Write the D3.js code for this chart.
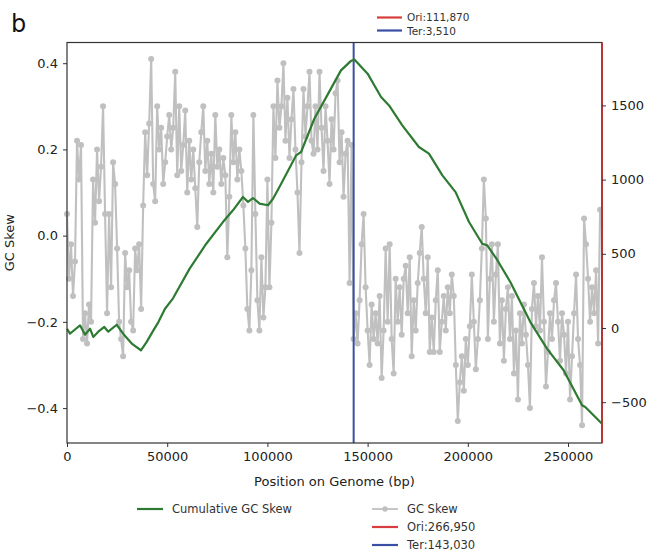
<!DOCTYPE html>
<html>
<head>
<meta charset="utf-8">
<script src="https://cdn.jsdelivr.net/npm/d3@7"></script>
<style>
html,body{margin:0;padding:0;background:#fff;}
svg{display:block;font-family:"DejaVu Sans",sans-serif;}
</style>
</head>
<body>
<svg id="chart" width="657" height="555"></svg>
<script>
// ---- data ----
const genomeLength = 266950;
const oriPos = 266950;
const terPos = 143030;
const skewWindow = 1000; // bp between GC skew points
const gcSkew = [
  // 0k - 52k
  0.05,-0.10,-0.02,-0.14,-0.06,0.22,0.13,0.21,-0.24,-0.18,
  -0.25,-0.16,-0.20,0.13,0.03,0.20,0.08,0.16,0.30,0.05,
  -0.18,0.05,-0.12,0.17,0.12,-0.03,-0.20,-0.24,-0.28,-0.04,
  -0.12,-0.08,-0.20,-0.22,-0.03,-0.08,-0.02,-0.17,0.07,0.24,
  0.14,0.26,0.41,0.12,0.08,0.30,0.20,0.25,0.12,0.17,
  0.23,0.28,0.20,
  // 53k - 106k
  0.25,0.38,0.14,0.30,0.15,0.21,0.29,0.10,0.22,0.13,
  0.20,0.11,0.02,0.17,0.24,0.30,0.15,0.22,0.12,0.19,
  0.10,0.28,0.16,0.20,0.12,0.18,0.14,-0.05,0.09,0.28,
  0.17,0.24,0.13,0.20,0.15,0.07,-0.03,-0.17,-0.22,-0.08,
  0.28,0.05,-0.15,-0.22,-0.05,-0.19,-0.12,0.13,-0.12,0.03,
  0.30,0.18,0.36,0.25,
  // 107k - 160k
  0.30,0.40,0.22,0.32,0.18,0.27,0.34,0.20,0.10,-0.04,
  0.17,0.34,0.23,0.30,0.38,0.22,0.19,0.30,0.20,0.38,
  0.25,0.15,0.30,0.22,0.12,0.27,0.20,0.33,0.36,0.17,
  0.24,0.09,0.19,0.22,-0.11,0.21,-0.24,-0.18,-0.25,-0.15,
  -0.02,0.05,-0.12,-0.22,-0.30,-0.16,-0.24,-0.18,-0.25,-0.14,
  -0.33,-0.22,-0.03,-0.20,
  // 161k - 214k
  -0.02,-0.24,-0.32,-0.10,-0.20,-0.12,-0.23,-0.10,-0.07,-0.18,
  -0.05,-0.28,-0.15,-0.22,-0.11,-0.04,0.02,-0.10,-0.18,-0.05,
  -0.27,-0.19,-0.27,-0.15,-0.08,-0.27,-0.20,-0.14,-0.22,-0.12,
  -0.18,-0.09,-0.14,-0.30,-0.43,-0.34,-0.28,-0.36,-0.24,-0.30,
  -0.21,-0.09,-0.20,-0.31,-0.24,-0.15,-0.03,0.13,0.04,-0.24,
  -0.10,-0.02,-0.20,-0.09,
  // 215k - 266k
  -0.02,-0.25,-0.15,-0.29,-0.17,-0.12,-0.24,-0.14,-0.32,-0.22,
  -0.38,-0.18,-0.25,-0.16,-0.23,-0.30,-0.40,-0.17,-0.11,-0.21,
  -0.14,-0.22,-0.05,-0.20,-0.35,-0.27,-0.18,-0.24,-0.15,-0.11,
  -0.20,-0.29,-0.18,-0.23,-0.32,-0.20,-0.38,-0.28,-0.18,-0.09,
  -0.24,-0.30,-0.44,0.04,-0.02,-0.10,-0.20,-0.12,-0.18,-0.08,
  -0.25,0.06
];
const cumPos = [0,1500,4000,6500,9000,11500,13100,15600,18600,20600,24800,28100,32300,36900,39700,43100,45600,48900,52900,61200,69500,77800,82800,87800,90300,92800,96100,100300,102800,106800,114300,116800,123400,131700,136700,141700,143400,150000,156700,160700,167300,175600,180600,187300,193900,200600,207200,209700,214600,221200,231200,239500,247800,257000,258600,266950];
const cumSkew = [-5,-38,-10,18,-45,-5,-60,-25,7,-25,22,-40,-105,-150,-95,-16,40,130,200,400,568,714,793,883,850,876,838,827,871,970,1163,1186,1410,1613,1736,1800,1810,1714,1557,1500,1366,1220,1175,1029,916,714,568,557,460,310,40,-139,-285,-521,-532,-645];
const xTicks = [0,50000,100000,150000,200000,250000];
const yLeftTicks = [-0.4,-0.2,0.0,0.2,0.4];
const yRightTicks = [-500,0,500,1000,1500];

// ---- layout ----
const svg = d3.select("#chart");
const L = 67, R = 602, T = 42.5, B = 443;
const x = d3.scaleLinear().domain([0, genomeLength]).range([L, R]);
const yL = d3.scaleLinear().domain([-0.481, 0.448]).range([B, T]);
const yR = d3.scaleLinear().domain([-775, 1924]).range([B, T]);

const gray = "#c0c0c0", green = "#2f7a32", blue = "#3a4fa3", red = "#b83434", axisCol = "#333";
const fmtMinus = s => s.replace("-", "\u2212");

svg.append("rect").attr("width",657).attr("height",555).attr("fill","#fff");

// GC skew series
const skewData = gcSkew.map((v,i)=>({p:i*skewWindow, v}));
svg.append("path").datum(skewData)
  .attr("fill","none").attr("stroke",gray).attr("stroke-width",2.1)
  .attr("d", d3.line().x(d=>x(d.p)).y(d=>yL(d.v)));
svg.append("g").selectAll("circle").data(skewData).join("circle")
  .attr("cx",d=>x(d.p)).attr("cy",d=>yL(d.v)).attr("r",3).attr("fill",gray);

// Ter line
svg.append("line").attr("x1",x(terPos)).attr("x2",x(terPos)).attr("y1",T).attr("y2",B)
  .attr("stroke",blue).attr("stroke-width",2);

// cumulative
const cumData = cumPos.map((p,i)=>({p, v:cumSkew[i]}));
svg.append("path").datum(cumData)
  .attr("fill","none").attr("stroke",green).attr("stroke-width",2.2).attr("stroke-linejoin","round")
  .attr("d", d3.line().x(d=>x(d.p)).y(d=>yR(d.v)));

// frame
svg.append("rect").attr("x",L).attr("y",T).attr("width",R-L).attr("height",B-T)
  .attr("fill","none").attr("stroke",axisCol).attr("stroke-width",1.2);
// Ori line (right edge)
svg.append("line").attr("x1",x(oriPos)).attr("x2",x(oriPos)).attr("y1",T).attr("y2",B)
  .attr("stroke",red).attr("stroke-width",2);

// axes
const styleAxis = g => {
  g.select(".domain").remove();
  g.selectAll(".tick line").attr("stroke",axisCol);
  g.selectAll(".tick text").attr("fill","#222").style("font-size","13px").style("font-family","DejaVu Sans");
};
svg.append("g").attr("transform",`translate(0,${B})`)
  .call(d3.axisBottom(x).tickValues(xTicks).tickFormat(d3.format("d")).tickSizeOuter(0).tickSize(4).tickPadding(5))
  .call(styleAxis);
svg.append("g").attr("transform",`translate(${L},0)`)
  .call(d3.axisLeft(yL).tickValues(yLeftTicks).tickFormat(d=>fmtMinus(d3.format(".1f")(d))).tickSizeOuter(0).tickSize(4).tickPadding(5))
  .call(styleAxis);
svg.append("g").attr("transform",`translate(${R},0)`)
  .call(d3.axisRight(yR).tickValues(yRightTicks).tickFormat(d=>fmtMinus(String(d))).tickSizeOuter(0).tickSize(4).tickPadding(5))
  .call(styleAxis);

// axis labels
svg.append("text").attr("x",(L+R)/2).attr("y",486).attr("text-anchor","middle")
  .style("font-size","13px").attr("fill","#222").text("Position on Genome (bp)");
svg.append("text").attr("transform",`translate(14,${(T+B)/2}) rotate(-90)`).attr("text-anchor","middle")
  .style("font-size","13px").attr("fill","#222").text("GC Skew");

// panel letter
svg.append("text").attr("x",11).attr("y",32).style("font-size","24px").attr("fill","#111").text("b");

// top legend (from previous panel)
const topLeg = svg.append("g").style("font-size","10.5px").attr("fill","#333");
topLeg.append("line").attr("x1",377).attr("x2",402).attr("y1",17.5).attr("y2",17.5).attr("stroke","#d83c3c").attr("stroke-width",2.2);
topLeg.append("text").attr("x",407).attr("y",21).text("Ori:111,870");
topLeg.append("line").attr("x1",377).attr("x2",402).attr("y1",30.5).attr("y2",30.5).attr("stroke",blue).attr("stroke-width",2.2);
topLeg.append("text").attr("x",407).attr("y",34.5).text("Ter:3,510");

// bottom legends
const leg = svg.append("g").style("font-size","11.5px").attr("fill","#333");
leg.append("line").attr("x1",137).attr("x2",163).attr("y1",509).attr("y2",509).attr("stroke",green).attr("stroke-width",2.2);
leg.append("text").attr("x",172).attr("y",513).text("Cumulative GC Skew");
leg.append("line").attr("x1",372).attr("x2",398).attr("y1",509).attr("y2",509).attr("stroke",gray).attr("stroke-width",1.8);
leg.append("circle").attr("cx",385).attr("cy",509).attr("r",2.7).attr("fill",gray);
leg.append("text").attr("x",407).attr("y",513).text("GC Skew");
leg.append("line").attr("x1",372).attr("x2",398).attr("y1",527).attr("y2",527).attr("stroke","#d83c3c").attr("stroke-width",2.2);
leg.append("text").attr("x",407).attr("y",531).text("Ori:266,950");
leg.append("line").attr("x1",372).attr("x2",398).attr("y1",545).attr("y2",545).attr("stroke",blue).attr("stroke-width",2.2);
leg.append("text").attr("x",407).attr("y",549).text("Ter:143,030");
</script>
</body>
</html>
